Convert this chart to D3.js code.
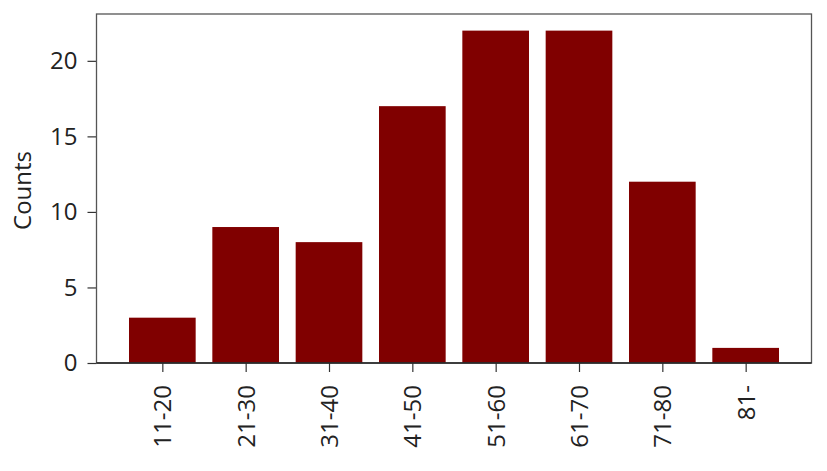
<!DOCTYPE html>
<html>
<head>
<meta charset="utf-8">
<script src="https://cdn.jsdelivr.net/npm/d3@7"></script>
<style>
  body { margin: 0; background: #fff; }
  text { font-family: "Open Sans", "DejaVu Sans", sans-serif; fill: #222; }
</style>
</head>
<body>
<svg class="chart" width="827" height="471"></svg>
<script>
// age groups and how many in each
const ageGroups = ["11-20", "21-30", "31-40", "41-50", "51-60", "61-70", "71-80", "81-"]
const counts = [3, 9, 8, 17, 22, 22, 12, 1]
const yTicks = [0, 5, 10, 15, 20]

const svg = d3.select("svg.chart")

const plotLeft = 96.5, plotRight = 811.5, plotTop = 14, plotBottom = 363
const fontSize = "24px"

// matplotlib style: bars width 0.8, 5% margins
const xScale = d3.scaleLinear()
	.domain([-0.79, ageGroups.length - 1 + 0.79])
	.range([plotLeft, plotRight])

const yScale = d3.scaleLinear()
	.domain([0, d3.max(counts) * 1.05])
	.range([plotBottom, plotTop])

// bars
svg.selectAll("rect.bar")
	.data(counts)
	.enter()
	.append("rect")
	.attr("class", "bar")
	.attr("x", (d, i) => xScale(i - 0.4))
	.attr("width", (d, i) => xScale(i + 0.4) - xScale(i - 0.4))
	.attr("y", d => yScale(d))
	.attr("height", d => plotBottom - yScale(d))
	.attr("fill", "#800000")

// y axis
const yAxis = d3.axisLeft(yScale)
	.tickValues(yTicks)
	.tickSize(9)
	.tickPadding(10)

svg.append("g")
	.attr("transform", `translate(${plotLeft},0)`)
	.call(yAxis)
	.call(g => g.select(".domain").remove())
	.call(g => g.selectAll("text").style("font-size", fontSize).attr("fill", "#222"))
	.call(g => g.selectAll("line").attr("stroke", "#333").attr("stroke-width", 1.2))

// x axis
const xAxis = d3.axisBottom(xScale)
	.tickValues(d3.range(ageGroups.length))
	.tickFormat(i => ageGroups[i])
	.tickSize(9)

svg.append("g")
	.attr("transform", `translate(0,${plotBottom})`)
	.call(xAxis)
	.call(g => g.select(".domain").remove())
	.call(g => g.selectAll("line").attr("stroke", "#333").attr("stroke-width", 1.2))
	.call(g => g.selectAll("text")
		.style("font-size", fontSize)
		.attr("fill", "#222")
		.attr("text-anchor", "end")
		.attr("dy", "0.35em")
		.attr("y", 0)
		.attr("x", 0)
		.attr("transform", "translate(0,22) rotate(-90)"))

// frame
svg.append("rect")
	.attr("x", plotLeft)
	.attr("y", plotTop)
	.attr("width", plotRight - plotLeft)
	.attr("height", plotBottom - plotTop)
	.attr("fill", "none")
	.attr("stroke", "#555")
	.attr("stroke-width", 1.3)

// bottom spine a bit darker
svg.append("line")
	.attr("x1", plotLeft).attr("x2", plotRight)
	.attr("y1", plotBottom).attr("y2", plotBottom)
	.attr("stroke", "#222")
	.attr("stroke-width", 1.3)

// y label
svg.append("text")
	.attr("transform", `translate(31,${(plotTop + plotBottom) / 2 + 2}) rotate(-90)`)
	.attr("text-anchor", "middle")
	.style("font-size", fontSize)
	.text("Counts")
</script>
</body>
</html>
